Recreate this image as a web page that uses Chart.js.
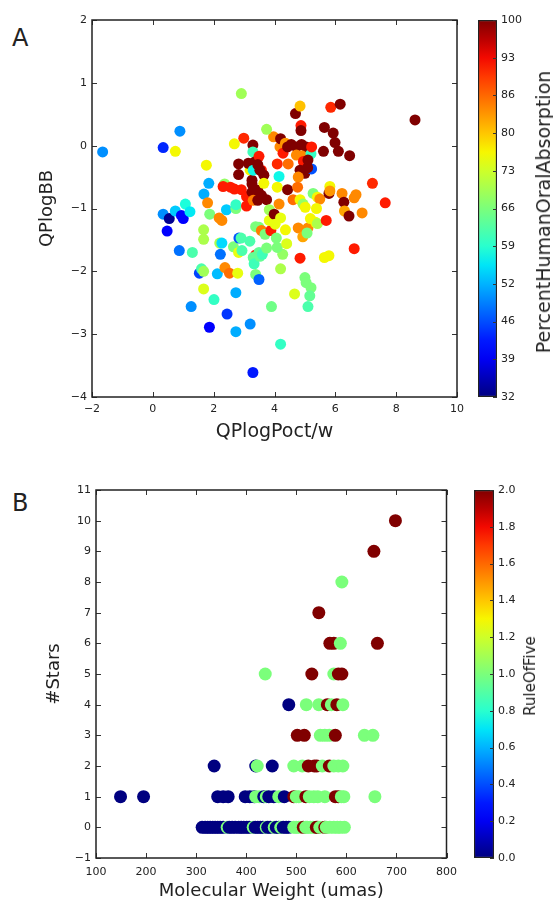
<!DOCTYPE html>
<html>
<head>
<meta charset="utf-8">
<script src="https://cdn.jsdelivr.net/npm/chart.js@4.4.1/dist/chart.umd.min.js"></script>
<style>
body { margin:0; background:#fff; width:553px; height:902px; position:relative; overflow:hidden; font-family:"DejaVu Sans", sans-serif; }
canvas { position:absolute; }
.panel { position:absolute; font-size:24px; color:#222; }
.cbtitle { position:absolute; white-space:nowrap; color:#222; transform: translate(-50%, -50%) rotate(-90deg); }
</style>
</head>
<body>
<div class="panel" style="left:12px; top:24px;">A</div>
<div class="panel" style="left:12px; top:489px;">B</div>
<canvas id="chartA" width="470" height="450" style="left:0; top:0;"></canvas>
<canvas id="cbarA" width="113" height="450" style="left:440px; top:0;"></canvas>
<canvas id="chartB" width="465" height="442" style="left:0; top:460px;"></canvas>
<canvas id="cbarB" width="113" height="442" style="left:440px; top:460px;"></canvas>
<div class="cbtitle" style="left:543px; top:212px; font-size:19px;">PercentHumanOralAbsorption</div>
<div class="cbtitle" style="left:530px; top:676px; font-size:15px;">RuleOfFive</div>
<script>
// Panel A: QPlogPoct/w vs QPlogBB, coloured by % human oral absorption
const a_logPow = [-1.65, 0.34, 0.89, 0.74, 0.34, 0.54, 0.74, 0.94, 1.00, 1.07, 1.22, 0.47, 0.87, 1.30, 1.26, 1.53,
  1.60, 1.67, 1.67, 1.67, 1.67, 1.76, 1.84, 1.68, 1.80, 1.87, 1.86, 2.01, 2.12, 2.22, 2.20, 2.27, 2.18, 2.27, 2.37,
  2.52, 2.42, 2.36, 2.31, 2.44, 2.73, 2.73, 2.65, 2.82, 2.79, 2.73, 2.73, 2.83, 2.90, 2.91, 2.68, 2.99, 2.82, 2.82,
  2.55, 2.68, 2.91, 3.08, 3.08, 2.93, 3.20, 3.29, 3.29, 3.35, 3.49, 3.14, 3.26, 3.30, 3.26, 3.45, 3.26, 3.57, 3.30,
  3.45, 3.57, 3.65, 3.74, 3.65, 3.52, 3.45, 3.19, 3.20, 3.29, 3.38, 3.30, 3.33, 3.38, 3.49, 3.57, 3.38, 3.49, 3.49,
  3.52, 3.60, 3.74, 3.69, 3.88, 3.83, 3.83, 3.99, 3.90, 4.20, 4.20, 4.27, 4.09, 4.06, 4.40, 4.36, 4.20, 4.02, 4.09,
  4.15, 4.09, 4.15, 3.97, 3.74, 4.18, 4.20, 4.36, 4.28, 4.45, 4.43, 4.69, 4.43, 4.55, 4.72, 4.89, 5.04, 4.84, 4.87,
  4.87, 4.72, 4.89, 4.95, 4.84, 4.92, 5.00, 4.78, 4.76, 4.61, 4.84, 4.94, 5.01, 4.78, 4.99, 4.93, 5.10, 5.07, 4.84,
  4.66, 5.00, 5.04, 5.20, 5.16, 5.10, 5.20, 5.22, 5.22, 5.10, 5.09, 5.27, 5.41, 5.49, 5.38, 5.18, 5.35, 5.41, 5.64,
  5.61, 5.85, 5.93, 5.99, 6.10, 6.16, 6.47, 5.79, 5.82, 5.82, 5.70, 5.64, 5.79, 6.22, 6.28, 6.30, 6.45, 6.62, 6.68,
  6.88, 6.62, 7.22, 7.64, 8.62];
const a_logBB = [-0.10, -0.03, 0.23, -0.09, -1.09, -1.16, -1.04, -1.11, -1.16, -0.93, -1.05, -1.36, -1.67, -1.70, -2.56, -2.03,
  -1.96, -2.00, -1.34, -1.49, -2.28, -0.31, -0.60, -0.77, -0.91, -1.09, -2.89, -2.45, -2.04, -1.73, -1.55, -1.55, -1.15, -1.19, -1.94,
  -2.03, -1.02, -0.61, -0.65, -2.68, -1.00, -0.94, -1.61, -1.70, -2.03, -2.34, -2.96, -1.47, -1.47, 0.83, 0.03, 0.12, -0.29, -0.46,
  -0.66, -0.69, -0.70, -0.81, -0.96, -1.67, -0.39, 0.01, -0.10, -0.26, -0.17, -0.28, -0.55, -0.39, -0.61, -0.71, -0.74, -0.79, -0.87,
  -0.87, -0.39, -0.47, -0.86, -0.60, -0.39, -0.30, -1.52, -2.84, -3.61, -1.74, -1.78, -1.88, -1.29, -1.30, -1.35, -2.05, -2.13, -1.70,
  -1.76, -1.73, -1.63, -1.41, -1.35, -1.19, -1.02, -1.09, -2.56, -3.16, -1.96, -1.73, -1.62, -1.47, -1.56, -1.34, -1.15, -1.25, -0.66,
  -0.49, -0.29, -0.93, 0.14, 0.26, -0.02, 0.11, 0.04, -0.12, -0.29, -0.70, 0.51, -0.02, 0.02, -0.02, 0.02, -0.02, 0.63, 0.32,
  0.24, -0.15, -0.16, -0.25, -0.39, -0.43, -0.44, -0.50, -0.66, -0.86, -0.86, -0.93, -0.98, -1.31, -1.38, -1.45, -1.31, -1.39, -1.79,
  -2.36, -2.10, -2.18, -2.26, -2.39, -2.56, -0.13, -0.37, -0.02, -0.23, -0.35, -0.76, -0.82, -0.85, -1.00, -1.16, -1.22, -1.24, 0.29,
  -0.09, 0.61, 0.20, 0.05, -0.09, 0.66, -0.16, -0.76, -0.65, -0.72, -1.19, -1.78, -1.75, -0.76, -0.90, -1.04, -1.12, -0.83, -0.78,
  -1.07, -1.64, -0.60, -0.91, 0.41];
const a_absorption = [50, 43, 50, 76, 50, 33, 54, 40, 40, 58, 56, 40, 48, 62, 50, 45,
  62, 69, 70, 70, 74, 76, 52, 52, 84, 66, 40, 60, 53, 48, 70, 55, 84, 84, 84,
  86, 54, 68, 92, 44, 66, 60, 66, 75, 75, 52, 52, 46, 62, 69, 76, 91, 100, 100,
  92, 92, 92, 92, 92, 62, 76, 100, 61, 100, 92, 100, 100, 57, 100, 100, 100, 100, 85,
  100, 92, 100, 100, 76, 100, 100, 62, 50, 42, 92, 64, 61, 66, 66, 85, 66, 47, 64,
  64, 61, 66, 66, 92, 75, 69, 100, 65, 60, 70, 68, 66, 66, 74, 76, 75, 75, 76,
  57, 91, 84, 84, 69, 84, 100, 83, 92, 86, 100, 100, 100, 100, 100, 100, 100, 80, 92,
  100, 84, 84, 92, 100, 100, 100, 84, 86, 86, 76, 68, 76, 84, 84, 82, 84, 66, 92,
  74, 66, 66, 66, 64, 62, 60, 46, 92, 100, 100, 66, 76, 84, 76, 76, 76, 70, 100,
  100, 91, 100, 100, 100, 100, 100, 100, 76, 83, 92, 76, 76, 84, 100, 82, 100, 84, 84,
  84, 92, 91, 92, 100];
const cbA_ticks = [32, 38.8, 45.6, 52.4, 59.2, 66, 72.8, 79.6, 86.4, 93.2, 100];
const cbA_labels = ['32', '39', '46', '52', '59', '66', '73', '80', '86', '93', '100'];

// Panel B: molecular weight vs #stars, coloured by RuleOfFive
const b_weight = [698, 655, 591, 545, 567, 575, 588, 662,
  438, 531, 575, 584, 591,
  485, 520, 545, 562, 570, 581, 593,
  502, 516, 548, 557, 566, 578, 636, 653,
  336, 419, 422, 452, 495, 512, 524, 536, 541, 552, 566, 575, 584, 593,
  149, 195, 343, 354, 364, 398, 407, 416, 419, 426, 435, 440, 445, 455, 465, 476, 495, 500, 505, 519, 526, 535, 543, 557, 578, 584, 590, 595, 657,
  312, 318, 323, 328, 333, 338, 343, 348, 354, 362, 366, 372, 378, 385, 390, 395, 401, 406, 414, 418, 423, 428, 433, 440, 443, 448,
  456, 460, 465, 469, 474, 480, 485, 495, 500, 505, 514, 519, 522, 528, 533, 540, 543, 547, 557, 560, 567, 575, 582, 588, 596];
const b_stars = [10, 9, 8, 7, 6, 6, 6, 6,
  5, 5, 5, 5, 5,
  4, 4, 4, 4, 4, 4, 4,
  3, 3, 3, 3, 3, 3, 3, 3,
  2, 2, 2, 2, 2, 2, 2, 2, 2, 2, 2, 2, 2, 2,
  1, 1, 1, 1, 1, 1, 1, 1, 1, 1, 1, 1, 1, 1, 1, 1, 1, 1, 1, 1, 1, 1, 1, 1, 1, 1, 1, 1, 1,
  0, 0, 0, 0, 0, 0, 0, 0, 0, 0, 0, 0, 0, 0, 0, 0, 0, 0, 0, 0, 0, 0, 0, 0, 0, 0,
  0, 0, 0, 0, 0, 0, 0, 0, 0, 0, 0, 0, 0, 0, 0, 0, 0, 0, 0, 0, 0, 0, 0, 0, 0];
const b_ruleOfFive = [2, 2, 1, 2, 2, 2, 1, 2,
  1, 2, 1, 2, 2,
  0, 1, 1, 2, 1, 2, 1,
  2, 2, 1, 1, 1, 2, 1, 1,
  0, 0, 1, 0, 1, 1, 2, 2, 2, 1, 2, 1, 1, 1,
  0, 0, 0, 0, 0, 0, 0, 0, 1, 1, 0, 1, 0, 0, 1, 0, 2, 1, 1, 2, 1, 1, 1, 1, 2, 2, 1, 1, 1,
  0, 0, 0, 0, 0, 0, 0, 0, 0, 1, 0, 0, 0, 0, 0, 0, 0, 0, 1, 0, 0, 0, 0, 1, 0, 0,
  1, 0, 0, 1, 0, 0, 0, 1, 1, 1, 2, 1, 1, 1, 1, 2, 2, 1, 2, 1, 1, 1, 1, 1, 1];
const cbB_ticks = [0, 0.2, 0.4, 0.6, 0.8, 1.0, 1.2, 1.4, 1.6, 1.8, 2.0];
const cbB_labels = ['0.0', '0.2', '0.4', '0.6', '0.8', '1.0', '1.2', '1.4', '1.6', '1.8', '2.0'];

const FONT = 'DejaVu Sans';
const INK = '#222';

// matplotlib "jet" colormap
function jet(t) {
    t = Math.max(0, Math.min(1, t));
    const seg = (pts) => {
        for (let i = 1; i < pts.length; i++) {
            if (t <= pts[i][0]) {
                const [x0, y0] = pts[i - 1], [x1, y1] = pts[i];
                return y0 + (y1 - y0) * (t - x0) / (x1 - x0);
            }
        }
        return pts[pts.length - 1][1];
    };
    const r = seg([[0, 0], [0.35, 0], [0.66, 1], [0.89, 1], [1, 0.5]]);
    const g = seg([[0, 0], [0.125, 0], [0.375, 1], [0.64, 1], [0.91, 0], [1, 0]]);
    const b = seg([[0, 0.5], [0.11, 1], [0.34, 1], [0.65, 0], [1, 0]]);
    return `rgb(${Math.round(r * 255)},${Math.round(g * 255)},${Math.round(b * 255)})`;
}

function jetGradient(chart) {
    const area = chart.chartArea;
    if (!area) return jet(0.5);
    const g = chart.ctx.createLinearGradient(0, area.bottom, 0, area.top);
    for (let i = 0; i <= 20; i++) g.addColorStop(i / 20, jet(i / 20));
    return g;
}

const minus = v => String(v).replace('-', '\u2212');

// frame + inward ticks like matplotlib
const axisFrame = {
    id: 'axisFrame',
    afterDatasetsDraw(chart, args, opts) {
        const { ctx, chartArea: a, scales } = chart;
        const len = opts.len || 5;
        ctx.save();
        ctx.strokeStyle = '#333';
        ctx.lineWidth = 1;
        ctx.beginPath();
        if (!opts.colorbar) {
            scales.x.ticks.forEach(t => {
                const px = Math.round(scales.x.getPixelForValue(t.value)) + 0.5;
                ctx.moveTo(px, a.bottom); ctx.lineTo(px, a.bottom - len);
                ctx.moveTo(px, a.top); ctx.lineTo(px, a.top + len);
            });
        }
        scales.y.ticks.forEach(t => {
            const py = Math.round(scales.y.getPixelForValue(t.value)) + 0.5;
            if (!opts.colorbar) { ctx.moveTo(a.left, py); ctx.lineTo(a.left + len, py); }
            ctx.moveTo(a.right, py); ctx.lineTo(a.right - len, py);
        });
        ctx.stroke();
        if (!opts.colorbar) {
            ctx.strokeStyle = INK;
            ctx.lineWidth = 1.5;
            ctx.strokeRect(a.left, a.top, a.width, a.height);
        }
        ctx.restore();
    }
};

function tickOpts(extra) {
    return Object.assign({ color: INK, font: { family: FONT, size: 11 }, callback: minus }, extra);
}

function scatterPanel(id, pts, colors, radius, xs, ys, pad) {
    return new Chart(document.getElementById(id), {
        type: 'scatter',
        data: {
            datasets: [{
                data: pts,
                pointBackgroundColor: colors,
                pointBorderWidth: 0,
                pointRadius: radius,
                pointHoverRadius: radius
            }]
        },
        options: {
            responsive: false,
            animation: false,
            devicePixelRatio: 1,
            layout: { padding: pad },
            plugins: { legend: { display: false }, tooltip: { enabled: false }, axisFrame: { len: 5 } },
            scales: {
                x: {
                    type: 'linear', min: xs.min, max: xs.max,
                    ticks: tickOpts({ stepSize: xs.step, padding: xs.tickPad }),
                    grid: { display: false, drawTicks: false },
                    border: { display: false },
                    title: { display: true, text: xs.title, color: INK, font: { family: FONT, size: xs.titleSize }, padding: { top: 0, bottom: xs.titlePad } },
                    afterFit: s => { s.height = xs.size; }
                },
                y: {
                    type: 'linear', min: ys.min, max: ys.max,
                    ticks: tickOpts({ stepSize: ys.step, padding: 5 }),
                    grid: { display: false, drawTicks: false },
                    border: { display: false },
                    title: { display: true, text: ys.title, color: INK, font: { family: FONT, size: ys.titleSize }, padding: { top: 4, bottom: 0 } },
                    afterFit: s => { s.width = ys.size; }
                }
            }
        },
        plugins: [axisFrame]
    });
}

function colorbar(id, min, max, ticks, labels, pad, axisWidth) {
    return new Chart(document.getElementById(id), {
        type: 'bar',
        data: {
            labels: [''],
            datasets: [{
                data: [[min, max]],
                backgroundColor: ctx => jetGradient(ctx.chart),
                borderColor: INK,
                borderWidth: 1.5,
                borderSkipped: false,
                barPercentage: 1,
                categoryPercentage: 1
            }]
        },
        options: {
            responsive: false,
            animation: false,
            devicePixelRatio: 1,
            layout: { padding: pad },
            plugins: { legend: { display: false }, tooltip: { enabled: false }, axisFrame: { colorbar: true, len: 4 } },
            scales: {
                x: { display: false },
                y: {
                    position: 'right', min: min, max: max,
                    afterBuildTicks: s => { s.ticks = ticks.map(v => ({ value: v })); },
                    ticks: { color: INK, font: { family: FONT, size: 11 }, padding: 4, callback: (v, i) => labels[i] },
                    grid: { display: false, drawTicks: false },
                    border: { display: false },
                    afterFit: s => { s.width = axisWidth; }
                }
            }
        },
        plugins: [axisFrame]
    });
}

scatterPanel('chartA',
    a_logPow.map((x, i) => ({ x, y: a_logBB[i] })),
    a_absorption.map(v => jet((v - 32) / 68)),
    5.5,
    { min: -2, max: 10, step: 2, title: 'QPlogPoct/w', titleSize: 19, titlePad: 7, tickPad: 6, size: 53 },
    { min: -4, max: 2, step: 1, title: 'QPlogBB', titleSize: 18, size: 59 },
    { left: 33, top: 20, right: 10, bottom: 0 });

colorbar('cbarA', 32, 100, cbA_ticks, cbA_labels, { left: 38, top: 20, bottom: 53, right: 0 }, 56);

scatterPanel('chartB',
    b_weight.map((x, i) => ({ x, y: b_stars[i] })),
    b_ruleOfFive.map(v => jet(v / 2)),
    6.5,
    { min: 100, max: 800, step: 100, title: 'Molecular Weight (umas)', titleSize: 18, titlePad: 0, tickPad: 8, size: 44 },
    { min: -1, max: 11, step: 1, title: '#Stars', titleSize: 18, size: 56 },
    { left: 40, top: 30, right: 11, bottom: 0 });

colorbar('cbarB', 0, 2, cbB_ticks, cbB_labels, { left: 34, top: 30, bottom: 44, right: 0 }, 59);
</script>
</body>
</html>
